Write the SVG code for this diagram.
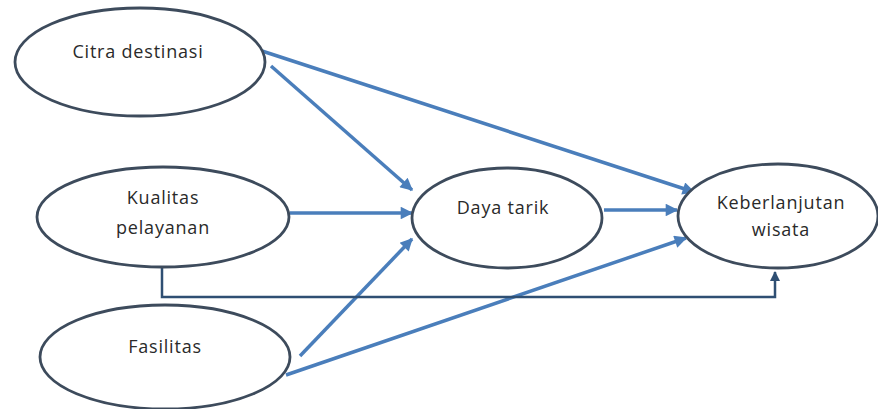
<svg xmlns="http://www.w3.org/2000/svg" width="878" height="409" viewBox="0 0 878 409">
<style>
.node ellipse{fill:#ffffff;stroke:#3d4b5c;stroke-width:2.8}
.node text{font-family:"Open Sans","Liberation Sans",sans-serif;font-size:18px;letter-spacing:0.8px;fill:#2a2a2a;text-anchor:middle}
.arr{stroke:#4a7ebb;stroke-width:3.5;fill:none;marker-end:url(#ah)}
.elbow{stroke:#2f4f73;stroke-width:2.5;fill:none;marker-end:url(#ah2)}
</style>
<defs>
<marker id="ah" viewBox="0 0 10 10" refX="9" refY="5" markerWidth="4" markerHeight="3.6" orient="auto">
<path d="M0,0 L10,5 L0,10 z" fill="#4a7ebb"/>
</marker>
<marker id="ah2" viewBox="0 0 10 10" refX="9" refY="5" markerWidth="4" markerHeight="4" orient="auto">
<path d="M0,0 L10,5 L0,10 z" fill="#2f4f73"/>
</marker>
</defs>
<rect width="878" height="409" fill="#ffffff"/>
<g id="connectors">
<line class="arr" x1="262" y1="51" x2="694" y2="192"/>
<line class="arr" x1="271" y1="66" x2="412" y2="190"/>
<line class="arr" x1="290" y1="213" x2="412" y2="213"/>
<line class="arr" x1="300" y1="356" x2="412" y2="239"/>
<line class="arr" x1="286" y1="375" x2="686" y2="238"/>
<line class="arr" x1="604" y1="210" x2="677" y2="210"/>
<polyline class="elbow" points="162,267 162,297 775,297 775,272"/>
</g>
<g id="citra" class="node">
<ellipse cx="140" cy="62" rx="125" ry="54"/>
<text x="138" y="58">Citra destinasi</text>
</g>
<g id="kualitas" class="node">
<ellipse cx="163" cy="217" rx="126" ry="50"/>
<text x="163" y="204">Kualitas</text>
<text x="163" y="234">pelayanan</text>
</g>
<g id="fasilitas" class="node">
<ellipse cx="165" cy="357" rx="125" ry="52"/>
<text x="165" y="353">Fasilitas</text>
</g>
<g id="daya" class="node">
<ellipse cx="507" cy="218" rx="95" ry="50"/>
<text x="503" y="214">Daya tarik</text>
</g>
<g id="keberlanjutan" class="node">
<ellipse cx="778" cy="216" rx="100" ry="52"/>
<text x="781" y="209">Keberlanjutan</text>
<text x="781" y="236">wisata</text>
</g>
</svg>
